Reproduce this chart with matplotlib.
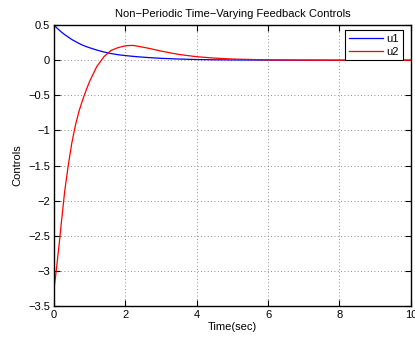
import matplotlib
matplotlib.use("Agg")
import matplotlib.pyplot as plt

plt.rcParams['font.family'] = ['Liberation Sans', 'DejaVu Sans']

# sampled control signals
time = [0, 0.05, 0.1, 0.15, 0.2, 0.3, 0.4, 0.5, 0.6, 0.7, 0.8, 0.9, 1.0,
        1.2, 1.4, 1.6, 1.8, 2.0, 2.2, 2.4, 2.7, 3.0, 3.5, 4.0, 4.5, 5.0,
        6.0, 7.0, 8.0, 10.0]
u1 = [0.5, 0.475, 0.45, 0.428, 0.405, 0.365, 0.33, 0.295, 0.267, 0.24,
      0.215, 0.195, 0.177, 0.145, 0.117, 0.095, 0.078, 0.066, 0.056, 0.047,
      0.036, 0.027, 0.017, 0.01, 0.006, 0.004, 0.002, 0.001, 0.0, 0.0]
u2 = [-3.26, -3.06, -2.83, -2.60, -2.35, -1.87, -1.50, -1.18, -0.93, -0.73,
      -0.57, -0.43, -0.30, -0.09, 0.05, 0.14, 0.18, 0.205, 0.212, 0.195,
      0.165, 0.13, 0.082, 0.05, 0.03, 0.017, 0.005, 0.001, 0.0, 0.0]

xticks = [0, 2, 4, 6, 8, 10]
yticks = [0.5, 0, -0.5, -1, -1.5, -2, -2.5, -3, -3.5]
ytick_labels = ['0.5', '0', '\u22120.5', '\u22121', '\u22121.5', '\u22122',
                '\u22122.5', '\u22123', '\u22123.5']

fig = plt.figure(figsize=(4.15, 3.38), dpi=100)
ax = fig.add_axes([0.130, 0.0947, 0.860, 0.831])

ax.plot(time, u1, color='#0000ff', linewidth=0.9, label='u1')
ax.plot(time, u2, color='#ff0000', linewidth=0.9, label='u2')

ax.set_xlim(0, 10)
ax.set_ylim(-3.5, 0.5)
ax.set_xticks(xticks)
ax.set_yticks(yticks)
ax.set_yticklabels(ytick_labels)
ax.tick_params(direction='in', top=True, right=True, length=4, width=0.8,
               labelsize=8, pad=3)
for sp in ax.spines.values():
    sp.set_linewidth(1.0)

ax.grid(True, linestyle=(0, (1, 3)), color='#666666', linewidth=0.6)

ax.set_title('Non\u2212Periodic Time\u2212Varying Feedback Controls',
             fontsize=8, pad=6)
ax.set_xlabel('Time(sec)', fontsize=8, labelpad=1)
ax.set_ylabel('Controls', fontsize=8, labelpad=4)

leg = ax.legend(loc='upper right', bbox_to_anchor=(0.978, 0.982),
                fontsize=8, fancybox=False, framealpha=1, edgecolor='black',
                borderaxespad=0, handlelength=3.0, handletextpad=0.35,
                borderpad=0.35, labelspacing=0.22)
leg.get_frame().set_linewidth(0.8)

fig.savefig('out.png', dpi=100)
plt.close(fig)
